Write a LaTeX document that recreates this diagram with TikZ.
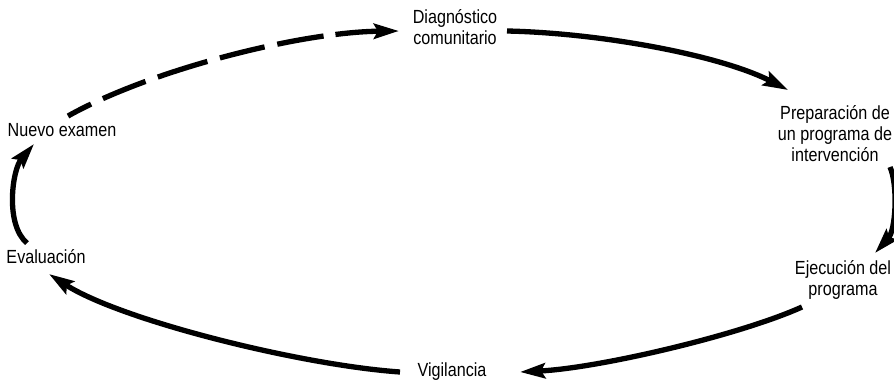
\documentclass[tikz,border=0pt]{standalone}
\usepackage{fontspec}
\setmainfont[FakeStretch=0.85]{Liberation Sans}
\usetikzlibrary{arrows.meta}
\begin{document}
\begin{tikzpicture}[x=1pt,y=-1pt,
  lbl/.style={align=center,inner sep=0pt,font=\fontsize{19}{21}\selectfont},
  flow/.style={line width=5.3pt,-{Stealth[length=25pt,width=15pt,inset=4pt]}},
  dflow/.style={flow,dash pattern=on 26pt off 13pt on 46pt off 13pt on 52pt off 13pt on 46pt off 13pt on 47pt off 12pt on 90pt}]
\useasboundingbox (0,0) rectangle (894,388);
\node[lbl] (diag) at (455,27) {Diagnóstico\\comunitario};
\node[lbl] (prep) at (835,134) {Preparación de\\un programa de\\intervención};
\node[lbl] (ejec) at (843,280) {Ejecución del\\programa};
\node[lbl] (vig) at (452,372) {Vigilancia};
\node[lbl] (eval) at (46,257) {Evaluación};
\node[lbl] (nuevo) at (62,130) {Nuevo examen};
% connector end points
\coordinate (nS) at (68,116);  \coordinate (dE) at (399,31);
\coordinate (dS) at (507,31);  \coordinate (pE) at (788,90);
\coordinate (pS) at (890,167); \coordinate (eE) at (875,253);
\coordinate (eS) at (802,307); \coordinate (vE) at (520,372);
\coordinate (vS) at (400,372); \coordinate (evE) at (49,274);
\coordinate (evS) at (27,243); \coordinate (nE) at (34,144);
\draw[dflow] (nS) .. controls (150,70) and (300,32) .. (dE);
\draw[flow] (dS) .. controls (600,33) and (720,55) .. (pE);
\draw[flow] (pS) .. controls (898,185) and (896,230) .. (eE);
\draw[flow] (eS) .. controls (740,335) and (600,368) .. (vE);
\draw[flow] (vS) .. controls (300,365) and (120,320) .. (evE);
\draw[flow] (evS) .. controls (5,225) and (12,170) .. (nE);
\end{tikzpicture}
\end{document}
